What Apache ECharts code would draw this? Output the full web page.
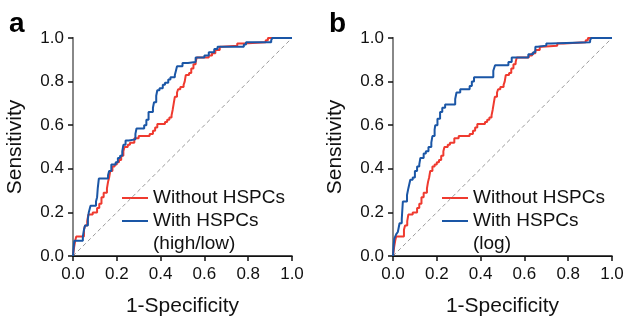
<!DOCTYPE html>
<html>
<head>
<meta charset="utf-8">
<script src="https://cdn.jsdelivr.net/npm/echarts@6/dist/echarts.min.js"></script>
<style>
  html, body { margin: 0; padding: 0; background: #fff; }
  #chart { width: 627px; height: 322px; }
</style>
</head>
<body>
<div id="chart"></div>
<script>
// ROC curves: [1-specificity, sensitivity] at each step
const withoutRoc = [
  [0, 0], [0.005, 0.04], [0.01, 0.07], [0.015, 0.09], [0.05, 0.12], [0.055, 0.14], [0.065, 0.16],
  [0.07, 0.19], [0.09, 0.2], [0.11, 0.22], [0.12, 0.24], [0.13, 0.27], [0.14, 0.29], [0.155, 0.31],
  [0.16, 0.34], [0.165, 0.36], [0.17, 0.39], [0.18, 0.41], [0.19, 0.42], [0.2, 0.43], [0.21, 0.44],
  [0.22, 0.46], [0.23, 0.48], [0.235, 0.5], [0.25, 0.51], [0.26, 0.52], [0.28, 0.54], [0.3, 0.55],
  [0.35, 0.56], [0.365, 0.575], [0.375, 0.59], [0.385, 0.605], [0.42, 0.615], [0.43, 0.625],
  [0.44, 0.635], [0.45, 0.645], [0.455, 0.67], [0.46, 0.7], [0.465, 0.73], [0.475, 0.75],
  [0.48, 0.765], [0.49, 0.775], [0.505, 0.785], [0.51, 0.8], [0.515, 0.83], [0.53, 0.84],
  [0.54, 0.86], [0.55, 0.88], [0.56, 0.89], [0.565, 0.91], [0.62, 0.92], [0.635, 0.93],
  [0.65, 0.945], [0.67, 0.96], [0.68, 0.965], [0.75, 0.975], [0.78, 0.98], [0.88, 0.99],
  [0.89, 1.0], [1.0, 1.0]
];

const highLowRoc = [
  [0, 0], [0.003, 0.04], [0.006, 0.07], [0.045, 0.09], [0.05, 0.12], [0.055, 0.14], [0.068, 0.17],
  [0.072, 0.2], [0.08, 0.23], [0.105, 0.25], [0.11, 0.27], [0.113, 0.31], [0.118, 0.355],
  [0.16, 0.37], [0.165, 0.39], [0.175, 0.42], [0.195, 0.43], [0.205, 0.45], [0.215, 0.46],
  [0.225, 0.48], [0.23, 0.51], [0.24, 0.53], [0.255, 0.535], [0.285, 0.56], [0.29, 0.585],
  [0.325, 0.6], [0.335, 0.625], [0.345, 0.66], [0.365, 0.68], [0.37, 0.705], [0.38, 0.735],
  [0.385, 0.76], [0.395, 0.77], [0.41, 0.785], [0.42, 0.795], [0.435, 0.81], [0.445, 0.82],
  [0.465, 0.83], [0.47, 0.85], [0.475, 0.87], [0.5, 0.885], [0.525, 0.89], [0.56, 0.91],
  [0.6, 0.92], [0.62, 0.935], [0.645, 0.95], [0.66, 0.96], [0.78, 0.97], [0.79, 0.98],
  [0.905, 0.99], [0.91, 1.0], [1.0, 1.0]
];

const logRoc = [
  [0, 0], [0.003, 0.05], [0.006, 0.08], [0.015, 0.1], [0.022, 0.11], [0.03, 0.15], [0.04, 0.17],
  [0.045, 0.25], [0.064, 0.28], [0.07, 0.31], [0.079, 0.35], [0.09, 0.36], [0.1, 0.39],
  [0.11, 0.41], [0.12, 0.42], [0.125, 0.45], [0.14, 0.47], [0.15, 0.48], [0.162, 0.5],
  [0.175, 0.52], [0.18, 0.55], [0.19, 0.58], [0.193, 0.6], [0.203, 0.63], [0.215, 0.66],
  [0.225, 0.68], [0.238, 0.695], [0.284, 0.72], [0.29, 0.75], [0.307, 0.765], [0.35, 0.78],
  [0.36, 0.8], [0.37, 0.82], [0.458, 0.85], [0.466, 0.875], [0.527, 0.89], [0.542, 0.91],
  [0.618, 0.925], [0.64, 0.935], [0.65, 0.96], [0.66, 0.965], [0.7, 0.975], [0.72, 0.98],
  [0.9, 0.99], [0.905, 1.0], [1.0, 1.0]
];

const diagonal = [[0, 0], [1, 1]];
const panelLetters = ['a', 'b'];
const legendNames = ['Without HSPCs', 'With HSPCs'];
const blueSubtitles = ['(high/low)', '(log)'];

const RED = '#ef3a2f';
const BLUE = '#1a56a6';
const FONT = '"Liberation Sans", Arial, sans-serif';
const INK = '#111';

const gridLefts = [73, 393];
const grids = gridLefts.map(l => ({ left: l, top: 38, width: 219, height: 219 }));

const xAxes = [];
const yAxes = [];
grids.forEach((g, i) => {
  xAxes.push({
    type: 'value', gridIndex: i, min: 0, max: 1, interval: 0.2,
    name: '1-Specificity', nameLocation: 'middle', nameGap: 40,
    nameTextStyle: { fontFamily: FONT, fontSize: 21, color: INK },
    axisLine: { lineStyle: { color: INK, width: 1.5 } },
    axisTick: { length: 5, lineStyle: { color: INK, width: 1.5 } },
    axisLabel: { margin: 10, fontFamily: FONT, fontSize: 17, color: INK,
      formatter: v => v.toFixed(1) },
    splitLine: { show: false }
  });
  // top border
  xAxes.push({
    type: 'value', gridIndex: i, min: 0, max: 1, position: 'top',
    axisLine: { lineStyle: { color: INK, width: 1 } },
    axisTick: { show: false }, axisLabel: { show: false }, splitLine: { show: false }
  });
  yAxes.push({
    type: 'value', gridIndex: i, min: 0, max: 1, interval: 0.2,
    name: 'Sensitivity', nameLocation: 'middle', nameGap: 47,
    nameTextStyle: { fontFamily: FONT, fontSize: 21, color: INK },
    axisLine: { lineStyle: { color: INK, width: 1.5 } },
    axisTick: { length: 5, lineStyle: { color: INK, width: 1.5 } },
    axisLabel: { margin: 9, fontFamily: FONT, fontSize: 17, color: INK,
      formatter: v => v.toFixed(1) },
    splitLine: { show: false }
  });
  // right border
  yAxes.push({
    type: 'value', gridIndex: i, min: 0, max: 1, position: 'right',
    axisLine: { lineStyle: { color: '#888', width: 2 } },
    axisTick: { show: false }, axisLabel: { show: false }, splitLine: { show: false }
  });
});

const curves = [[withoutRoc, highLowRoc], [withoutRoc, logRoc]];

const series = [];
curves.forEach((c, i) => {
  series.push({
    type: 'line', xAxisIndex: i * 2, yAxisIndex: i * 2,
    data: diagonal, symbol: 'none', silent: true,
    lineStyle: { color: '#999', width: 1, type: [4, 3] }
  });
  series.push({
    name: legendNames[0], type: 'line', xAxisIndex: i * 2, yAxisIndex: i * 2,
    data: c[0], step: 'end', symbol: 'none',
    lineStyle: { color: RED, width: 2 }
  });
  series.push({
    name: legendNames[1], type: 'line', xAxisIndex: i * 2, yAxisIndex: i * 2,
    data: c[1], step: 'end', symbol: 'none',
    lineStyle: { color: BLUE, width: 2 }
  });
});

// legend boxes + panel letters
const graphic = [];
gridLefts.forEach((l, i) => {
  const lx = l + 49;
  graphic.push({ type: 'text', left: l - 64, top: 10,
    style: { text: panelLetters[i], font: 'bold 28px ' + FONT, fill: '#000' } });
  graphic.push({ type: 'line', shape: { x1: lx, y1: 198, x2: lx + 26, y2: 198 },
    style: { stroke: RED, lineWidth: 2 } });
  graphic.push({ type: 'line', shape: { x1: lx, y1: 221, x2: lx + 26, y2: 221 },
    style: { stroke: BLUE, lineWidth: 2 } });
  graphic.push({ type: 'text', x: lx + 31, y: 198,
    style: { text: legendNames[0], font: '19px ' + FONT, fill: INK, verticalAlign: 'middle' } });
  graphic.push({ type: 'text', x: lx + 31, y: 221,
    style: { text: legendNames[1], font: '19px ' + FONT, fill: INK, verticalAlign: 'middle' } });
  graphic.push({ type: 'text', x: lx + 31, y: 244,
    style: { text: blueSubtitles[i], font: '19px ' + FONT, fill: INK, verticalAlign: 'middle' } });
});

const chart = echarts.init(document.getElementById('chart'));
chart.setOption({
  animation: false,
  backgroundColor: '#fff',
  grid: grids,
  xAxis: xAxes,
  yAxis: yAxes,
  series: series,
  graphic: graphic
});
</script>
</body>
</html>
